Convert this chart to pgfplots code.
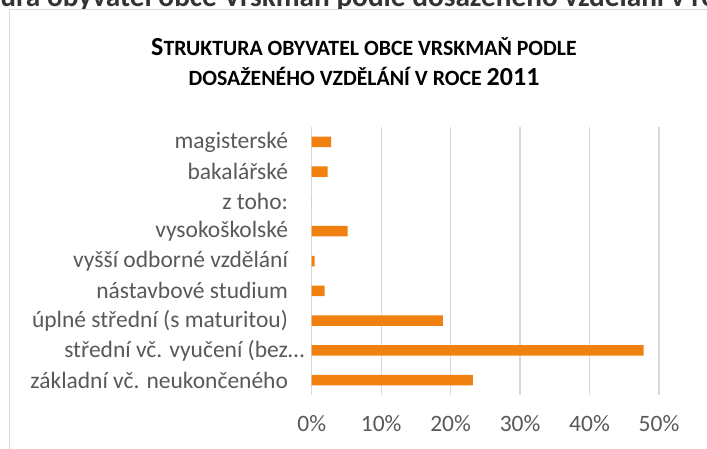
\documentclass[border=0pt]{standalone}
\usepackage{fontspec}
\setmainfont{Carlito}
\usepackage{pgfplots}
\pgfplotsset{compat=1.18}
\definecolor{barorange}{HTML}{F08010}
\definecolor{gridgray}{HTML}{D9D9D9}
\definecolor{labelgray}{HTML}{595959}
\definecolor{headgray}{HTML}{333333}
\newcommand{\bigf}{\fontsize{26}{30}\selectfont}
\newcommand{\smf}{\fontsize{21.8}{26}\selectfont}
\begin{document}
\begin{tikzpicture}
\useasboundingbox (0pt,-449pt) rectangle (707pt,0pt);
% header text of the page (cut off)
\begin{scope}
\clip (0pt,0pt) rectangle (707pt,-9.5pt);
\node[anchor=base west, inner sep=0pt, text=headgray, font=\bfseries\fontsize{29.3}{34}\selectfont] at (-74pt,-7pt) {Struktura obyvatel obce Vrskmaň podle dosaženého vzdělání v roce 2011};
\end{scope}
% chart frame
\draw[gridgray, line width=1pt] (9.5pt,-452pt) -- (9.5pt,-10pt) -- (710pt,-10pt);
% title
\node[anchor=base, inner sep=0pt, font=\bfseries] at (364pt,-56pt) {{\bigf S}{\smf TRUKTURA OBYVATEL OBCE VRSKMAŇ PODLE}};
\node[anchor=base, inner sep=0pt, font=\bfseries] at (364pt,-86pt) {{\smf DOSAŽENÉHO VZDĚLÁNÍ V ROCE }{\bigf 2011}};
\begin{axis}[
  at={(311.7pt,-395pt)}, anchor=south west,
  scale only axis, width=347.3pt, height=268pt,
  xbar, bar width=10.5pt,
  xmin=0, xmax=50, ymin=-0.5, ymax=8.5,
  xtick={0,10,20,30,40,50},
  xticklabels={0\%,10\%,20\%,30\%,40\%,50\%},
  ytick={0,1,2,3,4,5,6,7,8},
  yticklabels={základní vč. neukončeného,střední vč. vyučení (bez\rlap{…},úplné střední (s maturitou),nástavbové studium,vyšší odborné vzdělání,vysokoškolské,z toho:,bakalářské,magisterské},
  axis line style={draw=none},
  xmajorgrids, major grid style={draw=gridgray, line width=1.3pt},
  major tick length=0pt,
  tick label style={text=labelgray, font=\fontsize{23.5}{28}\selectfont, inner sep=0pt},
  yticklabel shift=23.5pt,
  xticklabel shift=20pt,
  clip=false,
]
\addplot[fill=barorange, draw=none] coordinates {(23.2,0) (47.8,1) (18.9,2) (1.87,3) (0.43,4) (5.18,5) (0,6) (2.30,7) (2.78,8)};
\end{axis}
\end{tikzpicture}
\end{document}
